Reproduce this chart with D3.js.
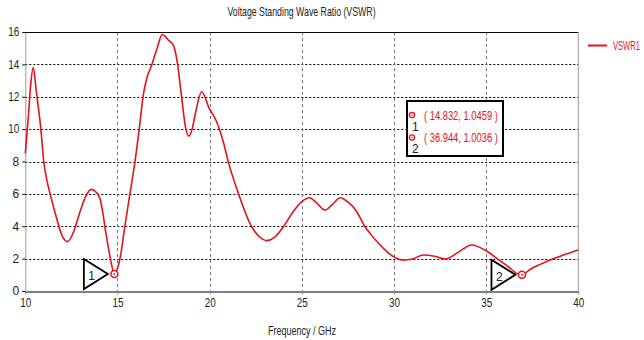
<!DOCTYPE html>
<html>
<head>
<meta charset="utf-8">
<script src="https://cdn.jsdelivr.net/npm/d3@7"></script>
<style>
  html, body { margin: 0; padding: 0; background: #fff; }
  svg { display: block; }
  text { font-family: "Liberation Sans", "DejaVu Sans", sans-serif; }
</style>
</head>
<body>
<svg id="chart" width="644" height="340"></svg>
<script>
const title = "Voltage Standing Wave Ratio (VSWR)";
const xLabel = "Frequency / GHz";
const seriesName = "VSWR1";

const freq = [10.0, 10.16, 10.29, 10.43, 10.6, 10.84, 11.0, 11.16, 11.34, 11.70, 12.0, 12.30, 12.6, 12.97, 13.3, 13.57, 13.8, 14.05, 14.42, 14.65, 14.832, 15.0, 15.14, 15.4, 15.68, 15.95, 16.2, 16.40, 16.59, 16.86, 17.15, 17.43, 17.76, 18.03, 18.21, 18.49, 18.67, 18.88, 19.05, 19.21, 19.57, 19.98, 20.38, 20.74, 21.01, 21.56, 22.28, 22.7, 23.10, 23.5, 24.0, 24.5, 25.0, 25.41, 25.8, 26.26, 26.7, 27.08, 27.5, 27.98, 28.43, 28.70, 29.25, 29.6, 30.06, 30.51, 31.0, 31.6, 32.2, 32.79, 33.5, 34.22, 34.94, 35.58, 36.2, 36.66, 36.944, 37.38, 37.9, 38.47, 39.19, 40.0];
const vswr = [8.5, 10.67, 12.72, 13.8, 12.3, 10.05, 8.0, 6.9, 6.03, 4.49, 3.4, 3.05, 3.6, 4.9, 5.9, 6.28, 6.15, 5.72, 3.25, 1.8, 1.0459, 1.4, 2.02, 4.0, 6.03, 7.99, 10.2, 12.1, 13.14, 13.96, 15.0, 15.85, 15.5, 15.19, 14.37, 11.9, 10.25, 9.57, 10.0, 10.87, 12.31, 11.28, 10.46, 9.22, 7.99, 6.03, 3.97, 3.35, 3.11, 3.3, 3.97, 4.85, 5.52, 5.76, 5.45, 5.0, 5.4, 5.76, 5.5, 4.9, 3.97, 3.56, 2.84, 2.45, 2.06, 1.91, 1.98, 2.22, 2.15, 1.98, 2.4, 2.84, 2.53, 2.02, 1.5, 1.09, 1.0036, 1.33, 1.63, 1.92, 2.22, 2.53];

const xTicks = [10, 15, 20, 25, 30, 35, 40];
const yTicks = [0, 2, 4, 6, 8, 10, 12, 14, 16];

const markerIds = ["1", "2"];
const markerFreq = [14.832, 36.944];
const markerVal = [1.0459, 1.0036];

const RED = "#e8101a";
const svg = d3.select("#chart");
const L = 25.3, R = 578.3, T = 32, B = 291;

const x = d3.scaleLinear().domain([10, 40]).range([L, R]);
const y = d3.scaleLinear().domain([0, 16]).range([B, T]);

// horizontally condensed text (the original uses a narrow UI font)
function narrowText(px, py, str, sx, anchor, color, size) {
  return svg.append("g").attr("transform", `translate(${px},${py}) scale(${sx},1)`)
    .append("text").attr("x", 0).attr("y", 0).attr("text-anchor", anchor || "start")
    .attr("font-size", size || 12).attr("fill", color || "#222").text(str);
}

// title
narrowText(301.5, 16, title, 0.73, "middle");

// grid horizontal dotted
svg.append("g").selectAll("line").data(yTicks.filter(d => d > 0 && d < 16)).join("line")
  .attr("x1", L).attr("x2", R).attr("y1", d => Math.round(y(d)) + 0.5).attr("y2", d => Math.round(y(d)) + 0.5)
  .attr("stroke", "#000").attr("stroke-width", 1).attr("stroke-dasharray", "2,2");

// grid vertical dashed
svg.append("g").selectAll("line").data(xTicks.filter(d => d > 10 && d < 40)).join("line")
  .attr("x1", d => Math.round(x(d)) + 0.5).attr("x2", d => Math.round(x(d)) + 0.5).attr("y1", T).attr("y2", B)
  .attr("stroke", "#777").attr("stroke-width", 1).attr("stroke-dasharray", "3,3");

// axes
const xAxis = d3.axisBottom(x).tickValues(xTicks).tickSize(3).tickPadding(4).tickSizeOuter(0);
const gx = svg.append("g").attr("transform", `translate(0,${B + 0.5})`).call(xAxis);
gx.select(".domain").attr("stroke", "#000");
gx.selectAll(".tick line").attr("stroke", "#888");
gx.selectAll("text").attr("font-size", 12).attr("fill", "#222").attr("font-family", null)
  .attr("textLength", 11).attr("lengthAdjust", "spacingAndGlyphs");

const yAxis = d3.axisLeft(y).tickValues(yTicks).tickSize(3).tickPadding(3).tickSizeOuter(0);
const gy = svg.append("g").attr("transform", `translate(${L},0)`).call(yAxis);
gy.select(".domain").attr("stroke", "#999");
gy.selectAll(".tick line").attr("stroke", "#000");
gy.selectAll("text").attr("font-size", 12).attr("fill", "#222").attr("font-family", null)
  .each(function (d) { if (d >= 10) d3.select(this).attr("textLength", 11).attr("lengthAdjust", "spacingAndGlyphs"); });

// top and right frame
svg.append("line").attr("x1", L - 2).attr("x2", R).attr("y1", T + 0.5).attr("y2", T + 0.5).attr("stroke", "#000");
svg.append("line").attr("x1", R).attr("x2", R).attr("y1", T).attr("y2", B + 3).attr("stroke", "#999");

// curve
const pts = freq.map((f, i) => [f, vswr[i]]);
const line = d3.line().x(d => x(d[0])).y(d => y(d[1])).curve(d3.curveMonotoneX);
svg.append("path").datum(pts).attr("d", line).attr("fill", "none")
  .attr("stroke", RED).attr("stroke-width", 1.6).attr("stroke-linejoin", "round");

// markers on curve
markerIds.forEach((id, i) => {
  const mx = x(markerFreq[i]), my = y(markerVal[i]);
  const tri = `M${mx - 30.5},${my - 15} L${mx - 6.5},${my} L${mx - 30.5},${my + 15} Z`;
  svg.append("path").attr("d", tri).attr("fill", "none").attr("stroke", "#000").attr("stroke-width", 1.8);
  svg.append("text").attr("x", mx - 26).attr("y", my + 6).attr("font-size", 12).attr("fill", "#222").text(id);
  svg.append("circle").attr("cx", mx).attr("cy", my).attr("r", 3.5).attr("fill", "#fff").attr("stroke", RED).attr("stroke-width", 1.5);
  svg.append("circle").attr("cx", mx).attr("cy", my).attr("r", 0.9).attr("fill", RED);
});

// marker box
svg.append("rect").attr("x", 407).attr("y", 101).attr("width", 96).attr("height", 55)
  .attr("fill", "#fff").attr("stroke", "#000").attr("stroke-width", 2);
markerIds.forEach((id, i) => {
  const yy = 115 + i * 22.5;
  svg.append("circle").attr("cx", 412).attr("cy", yy).attr("r", 2.6).attr("fill", "none").attr("stroke", RED).attr("stroke-width", 1.3);
  svg.append("circle").attr("cx", 412).attr("cy", yy).attr("r", 0.8).attr("fill", RED);
  svg.append("text").attr("x", 412).attr("y", yy + 15.5).attr("font-size", 12).attr("fill", "#222").text(id);
  narrowText(424, yy + 4.5, `( ${markerFreq[i].toFixed(3)}, ${markerVal[i].toFixed(4)} )`, 0.78, "start", RED);
});

// legend
svg.append("line").attr("x1", 588).attr("x2", 607).attr("y1", 45.5).attr("y2", 45.5).attr("stroke", RED).attr("stroke-width", 2);
narrowText(613, 50, seriesName, 0.63, "start", RED);

// x label
narrowText(302, 335, xLabel, 0.75, "middle");
</script>
</body>
</html>
